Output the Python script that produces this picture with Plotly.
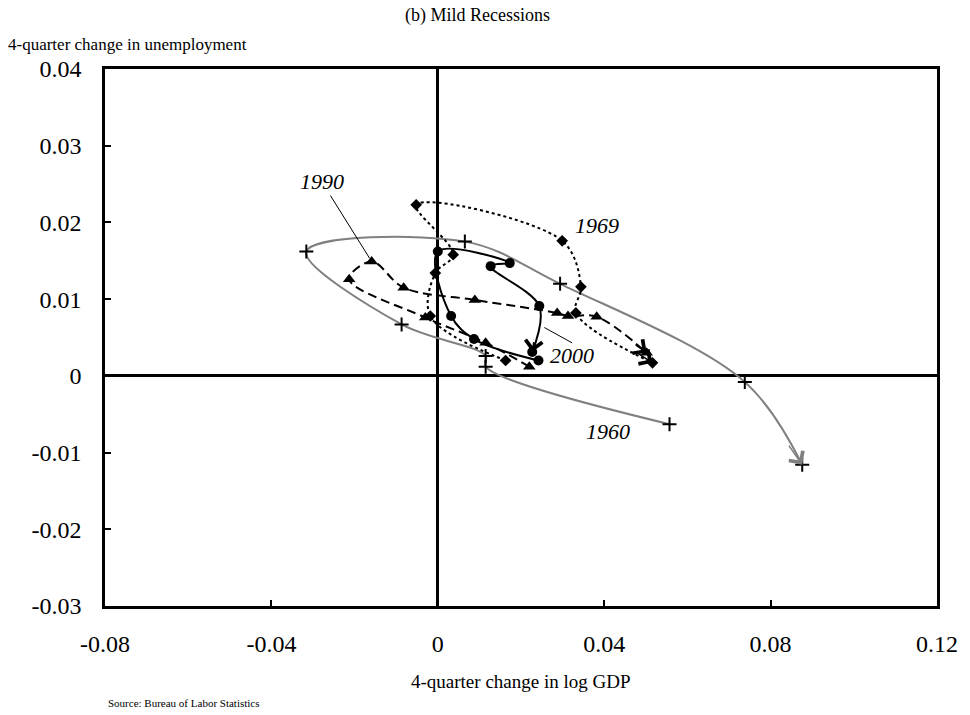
import plotly.graph_objects as go

# ---- data (4-quarter change in log GDP, 4-quarter change in unemployment) ----
gdp_1960 = [0.0557, 0.0115, 0.0115, -0.0087, -0.0316, 0.0065, 0.0294, 0.0738, 0.0876]
une_1960 = [-0.0063, 0.0012, 0.0026, 0.0067, 0.0162, 0.0175, 0.0120, -0.0008, -0.0116]

gdp_1969 = [0.0163, -0.0018, -0.0006, 0.0037, -0.0052, 0.0299, 0.0344, 0.0332, 0.0516]
une_1969 = [0.0020, 0.0078, 0.0134, 0.0158, 0.0223, 0.0176, 0.0116, 0.0082, 0.0017]

gdp_1990 = [0.0220, 0.0115, -0.0030, -0.0213, -0.0159, -0.0082, 0.0089, 0.0287, 0.0313, 0.0382, 0.0502]
une_1990 = [0.0012, 0.0043, 0.0076, 0.0126, 0.0149, 0.0115, 0.0099, 0.0082, 0.0078, 0.0077, 0.0030]

gdp_2000 = [0.0242, 0.0087, 0.0032, 0.0000, 0.0173, 0.0127, 0.0244, 0.0227]
une_2000 = [0.0020, 0.0048, 0.0078, 0.0162, 0.0147, 0.0143, 0.0091, 0.0031]

x_tickvals = [-0.08, -0.04, 0, 0.04, 0.08, 0.12]
x_ticktext = ["-0.08", "-0.04", "0", "0.04", "0.08", "0.12"]
y_tickvals = [0.04, 0.03, 0.02, 0.01, 0, -0.01, -0.02, -0.03]
y_ticktext = ["0.04", "0.03", "0.02", "0.01", "0", "-0.01", "-0.02", "-0.03"]

SERIF = "Liberation Serif, Times New Roman, serif"

series = [
    dict(name="1960", x=gdp_1960, y=une_1960, color="#808080", dash="solid",
         symbol="cross-thin", size=10),
    dict(name="1969", x=gdp_1969, y=une_1969, color="black", dash="dot",
         symbol="diamond", size=9),
    dict(name="1990", x=gdp_1990, y=une_1990, color="black", dash="9px,5px",
         symbol="triangle-up", size=11),
    dict(name="2000", x=gdp_2000, y=une_2000, color="black", dash="solid",
         symbol="circle", size=10),
]

fig = go.Figure()
annotations = []
for s in series:
    fig.add_trace(go.Scatter(
        x=s["x"], y=s["y"], mode="lines+markers", name=s["name"],
        line=dict(color=s["color"], width=2, dash=s["dash"], shape="spline", smoothing=1.0),
        marker=dict(symbol=s["symbol"], size=s["size"], color="black",
                    line=dict(color="black", width=2 if s["symbol"] == "cross-thin" else 0)),
        showlegend=False, hoverinfo="skip",
    ))
    # open arrowhead at the end of each path, pointing along the last segment
    xl, yl = s["x"][-1], s["y"][-1]
    xp, yp = s["x"][-2], s["y"][-2]
    f = 0.25
    annotations.append(dict(
        x=xl, y=yl, ax=xl - (xl - xp) * f, ay=yl - (yl - yp) * f,
        xref="x", yref="y", axref="x", ayref="y", text="", showarrow=True,
        arrowhead=4, arrowsize=2.2, arrowwidth=1.5, arrowcolor=s["color"], standoff=0,
    ))

label_font = dict(family=SERIF, size=22, color="black")
# series labels
annotations += [
    dict(x=gdp_1990[4], y=une_1990[4], xref="x", yref="y", text="<i>1990</i>",
         showarrow=True, arrowhead=0, arrowwidth=1, arrowcolor="black",
         ax=-50, ay=-80, font=label_font, standoff=4),
    dict(x=0.0382, y=0.0196, xref="x", yref="y", text="<i>1969</i>",
         showarrow=False, font=label_font),
    dict(x=0.0323, y=0.0026, xref="x", yref="y", text="<i>2000</i>",
         showarrow=False, font=label_font),
    dict(x=0.0409, y=-0.0073, xref="x", yref="y", text="<i>1960</i>",
         showarrow=False, font=label_font),
]
# leader line for 2000
fig.add_shape(type="line", x0=0.0256, y0=0.0063, x1=0.0323, y1=0.0043,
              xref="x", yref="y", line=dict(color="black", width=1))

# texts around the plot
annotations += [
    dict(text="(b) Mild Recessions", x=0.448, y=1.100, xref="paper", yref="paper",
         showarrow=False, xanchor="center", yanchor="middle",
         font=dict(family=SERIF, size=18, color="black")),
    dict(text="4-quarter change in unemployment", x=-0.119, y=1.0447, xref="paper", yref="paper",
         showarrow=False, xanchor="left", yanchor="middle",
         font=dict(family=SERIF, size=17, color="black")),
    dict(text="4-quarter change in log GDP", x=0.5, y=-0.1415, xref="paper", yref="paper",
         showarrow=False, xanchor="center", yanchor="middle",
         font=dict(family=SERIF, size=19, color="black")),
    dict(text="Source: Bureau of Labor Statistics", x=0.001, y=-0.1806, xref="paper", yref="paper",
         showarrow=False, xanchor="left", yanchor="middle",
         font=dict(family=SERIF, size=11, color="black")),
]

axis_common = dict(
    showgrid=False, zeroline=True, zerolinecolor="black", zerolinewidth=2.5,
    showline=True, linecolor="black", linewidth=2.5, mirror=True,
    ticks="inside", ticklen=6, tickwidth=2, tickcolor="black",
    tickfont=dict(family=SERIF, size=24, color="black"),
    tickmode="array",
)

fig.update_layout(
    width=970, height=715,
    margin=dict(l=105, r=23, t=69, b=109),
    paper_bgcolor="white", plot_bgcolor="white",
    xaxis=dict(range=[-0.08, 0.12], tickvals=x_tickvals, ticktext=x_ticktext,
               ticklabelstandoff=14, **axis_common),
    yaxis=dict(range=[-0.03, 0.04], tickvals=y_tickvals, ticktext=y_ticktext,
               ticklabelstandoff=16, **axis_common),
    annotations=annotations,
)

fig.write_html("out.html", config={"displayModeBar": False},
               post_script="document.body.style.margin='0px';")
